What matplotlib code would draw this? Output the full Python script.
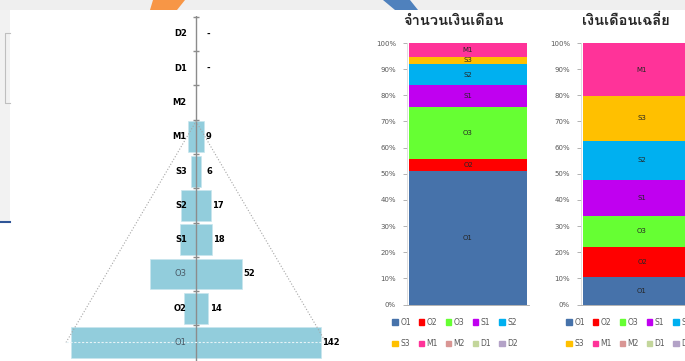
import matplotlib
matplotlib.use('Agg')
import matplotlib.pyplot as plt
from matplotlib import font_manager
from matplotlib.ft2font import FT2Font
from matplotlib.patches import Polygon, Rectangle

# headcount pyramid (bottom -> top)
levels = ['O1', 'O2', 'O3', 'S1', 'S2', 'S3', 'M1', 'M2', 'D1', 'D2']
headcount = [142, 14, 52, 18, 17, 6, 9, 0, 0, 0]
headcount_text = ['142', '14', '52', '18', '17', '6', '9', '', '-', '-']

# 100% stacked columns
stack_levels = ['O1', 'O2', 'O3', 'S1', 'S2', 'S3', 'M1']
total_share = [50.9, 4.7, 20.0, 8.2, 8.3, 2.6, 5.3]
avg_share = [10.6, 11.5, 11.8, 13.8, 15.0, 17.0, 20.3]
pct_ticks = list(range(0, 101, 10))

titles = ['จำนวนเงินเดือน', 'เงินเดือนเฉลี่ย']

level_colors = {
    'O1': '#4672AA', 'O2': '#FF0000', 'O3': '#66FF33', 'S1': '#C000F0',
    'S2': '#00B0F0', 'S3': '#FFC000', 'M1': '#FF3399', 'M2': '#D99694',
    'D1': '#C3D69B', 'D2': '#B3A2C7',
}


def thai_font():
    for f in font_manager.fontManager.ttflist:
        try:
            if 0x0E08 in FT2Font(f.fname).get_charmap():
                return f.name
        except Exception:
            pass
    return 'DejaVu Sans'


THAI = thai_font()
W, H = 685, 361


def fx(px):
    return px / W


def fy(py):
    return 1 - py / H


fig = plt.figure(figsize=(6.85, 3.61), dpi=100)
fig.patch.set_facecolor('white')

# slide decoration in pixel coordinates
deco = fig.add_axes([0, 0, 1, 1], zorder=0)
deco.set_xlim(0, W)
deco.set_ylim(H, 0)
deco.axis('off')
deco.add_patch(Rectangle((0, 0), W, 10, color='#EFEFEF', lw=0))
deco.add_patch(Rectangle((0, 10), 10, 212, color='#F2F2F2', lw=0))
deco.plot([10, 5, 5, 10], [33, 33, 103, 103], color='#BFBFBF', lw=0.8)
deco.plot([0, 10], [222, 222], color='#2F5597', lw=1.5)
deco.add_patch(Polygon([(153, 0), (185, 0), (177, 10), (150, 10)], color='#F79646', lw=0))
deco.add_patch(Polygon([(383, 0), (410, 0), (418, 10), (395, 10)], color='#4F81BD', lw=0))

# ---- pyramid ----
ax = fig.add_axes([fx(60), 0, fx(272), 345 / H], zorder=2)
ax.patch.set_alpha(0)
half = 154.5
ax.set_xlim(-half, half)
ax.set_ylim(-0.54, 9.525)
ax.axis('off')

ypos = list(range(len(levels)))
ax.barh(ypos, [2 * v for v in headcount], left=[-v for v in headcount],
        height=0.9, color='#92CDDC', edgecolor='#C8E6EE', lw=0.5, zorder=2)

# axis line through the middle
ax.plot([0, 0], [-0.54, 9.525], color='#8C8C8C', lw=1, zorder=3)
ax.plot([0] * len(levels), [y + 0.5 for y in ypos], ls='none', marker='_',
        markersize=5, color='#8C8C8C', zorder=3)

# funnel outline
base = headcount[0] * 1.04
apex = levels.index('M1') + 0.45
ax.plot([-base, 0, base], [0, apex, 0], color='#A6A6A6', lw=0.8, ls=':', zorder=4)
ax.plot([-base, base], [0, 0], color='#E6F3F7', lw=0.8, ls=(0, (2, 1.5)), zorder=4)

for y, name, v, t in zip(ypos, levels, headcount, headcount_text):
    inside = v > 30
    ax.text(-10.5, y, name, ha='right', va='center', fontsize=6,
            fontweight='normal' if inside else 'bold',
            color='#4A5A66' if inside else 'black', zorder=5)
    if t:
        ax.text(max(v + 1.5, 11.5), y, t, ha='left', va='center', fontsize=6,
                fontweight='bold', color='black', zorder=5)


# ---- stacked columns ----
def stacked(left_px, values, title, title_x):
    a = fig.add_axes([fx(left_px), fy(304.5), fx(122), 261.5 / H], zorder=2)
    a.patch.set_alpha(0)
    bottom = 0
    for name, v in zip(stack_levels, values):
        a.bar(0, v, bottom=bottom, width=1.0, color=level_colors[name], lw=0)
        a.text(0, bottom + v / 2, name, ha='center', va='center', fontsize=5,
               color='#262626')
        bottom += v
    a.set_xlim(-0.52, 0.52)
    a.set_ylim(0, 100)
    a.set_xticks([])
    a.set_yticks(pct_ticks)
    a.set_yticklabels([f'{t}%' for t in pct_ticks])
    a.tick_params(axis='y', labelsize=5, labelcolor='#595959', length=3,
                  color='#A6A6A6', width=0.6, pad=5)
    for s in ['top', 'right']:
        a.spines[s].set_visible(False)
    a.spines['left'].set_color('#D9D9D9')
    a.spines['bottom'].set_color('#A6A6A6')
    a.spines['left'].set_linewidth(0.6)
    a.spines['bottom'].set_linewidth(0.6)

    fig.text(fx(title_x), fy(21), title, ha='center', va='center', fontsize=10.5,
             fontweight='bold', family=[THAI, 'DejaVu Sans'], color='#262626')

    handles = [Rectangle((0, 0), 1, 1, color=level_colors[n]) for n in levels]
    order = [(k % 2) * 5 + k // 2 for k in range(len(levels))]
    fig.legend([handles[i] for i in order], [levels[i] for i in order],
               loc='center', bbox_to_anchor=(fx(left_px + 48), fy(333)), ncol=5,
               fontsize=5.5, frameon=False, handlelength=0.75, handleheight=0.75,
               handletextpad=0.3, columnspacing=1.0, labelspacing=1.6,
               labelcolor='#595959')


stacked(407, total_share, titles[0], 453)
stacked(581, avg_share, titles[1], 626)

fig.savefig('out.png', dpi=100, facecolor=fig.get_facecolor())
